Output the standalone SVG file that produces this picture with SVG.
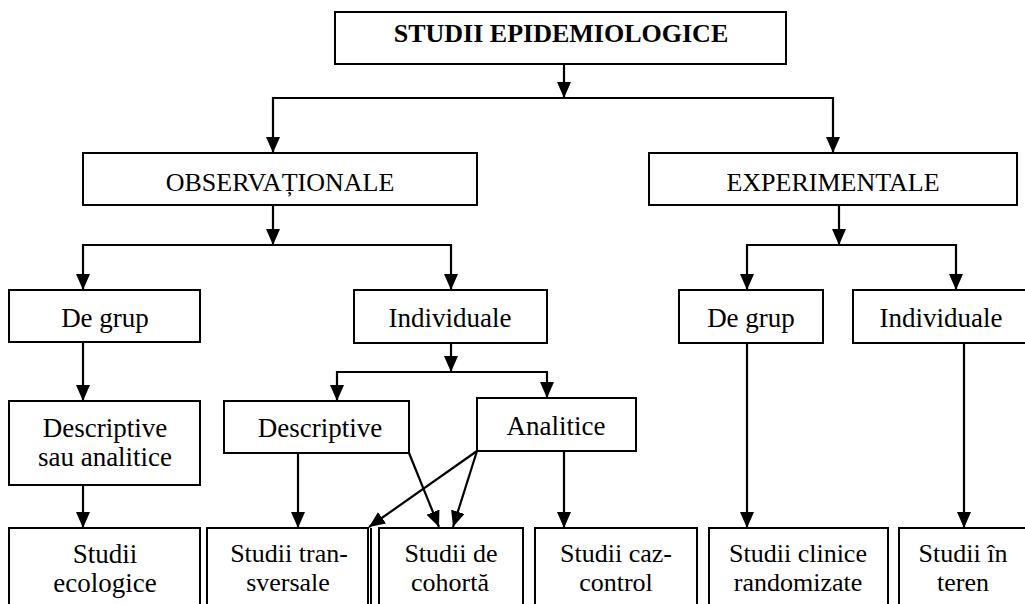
<svg xmlns="http://www.w3.org/2000/svg" width="1025" height="604" viewBox="0 0 1025 604">
  <style>
    .box { fill: #fff; stroke: #000; stroke-width: 2; }
    .lbl { font-family: "Liberation Serif", "Times New Roman", serif; font-size: 27px; fill: #000; text-anchor: middle; }
    .caps { font-size: 26px; }
    .title { font-weight: bold; font-size: 26px; }
    .sm { font-size: 26px; }
    .conn { fill: none; stroke: #000; stroke-width: 2.2; }
  </style>
  <defs>
    <marker id="arrow" viewBox="0 0 16 14" refX="16" refY="7" markerWidth="16" markerHeight="14" markerUnits="userSpaceOnUse" orient="auto">
      <path d="M0,0 L16,7 L0,14 z" fill="#000"/>
    </marker>
  </defs>
  <rect width="1025" height="604" fill="#fff"/>

  <!-- connectors -->
  <g id="connectors" class="conn">
    <path d="M564,64 V98" marker-end="url(#arrow)"/>
    <path d="M564,98 H273 V153" marker-end="url(#arrow)"/>
    <path d="M564,98 H833 V153" marker-end="url(#arrow)"/>

    <path d="M273,205 V245" marker-end="url(#arrow)"/>
    <path d="M273,245 H83 V290" marker-end="url(#arrow)"/>
    <path d="M273,245 H451 V290" marker-end="url(#arrow)"/>

    <path d="M839,205 V245" marker-end="url(#arrow)"/>
    <path d="M839,245 H747 V290" marker-end="url(#arrow)"/>
    <path d="M839,245 H956 V290" marker-end="url(#arrow)"/>

    <path d="M83,342 V401" marker-end="url(#arrow)"/>
    <path d="M83,485 V528" marker-end="url(#arrow)"/>

    <path d="M451,343 V372" marker-end="url(#arrow)"/>
    <path d="M451,372 H337 V401" marker-end="url(#arrow)"/>
    <path d="M451,372 H547 V398" marker-end="url(#arrow)"/>

    <path d="M298,453 V528" marker-end="url(#arrow)"/>
    <path d="M409,453 L439,527" marker-end="url(#arrow)"/>
    <path d="M477,451 L453,527" marker-end="url(#arrow)"/>
    <path d="M477,451 L369,527" marker-end="url(#arrow)"/>
    <path d="M564,451 V528" marker-end="url(#arrow)"/>

    <path d="M747,343 V528" marker-end="url(#arrow)"/>
    <path d="M964,343 V528" marker-end="url(#arrow)"/>
  </g>

  <g id="studii-epidemiologice">
    <rect class="box" x="335" y="12" width="451" height="52"/>
    <text class="lbl title" x="561" y="42">STUDII EPIDEMIOLOGICE</text>
  </g>

  <g id="observationale">
    <rect class="box" x="83" y="153" width="394" height="52"/>
    <text class="lbl caps" x="280" y="191">OBSERVAȚIONALE</text>
  </g>

  <g id="experimentale">
    <rect class="box" x="649" y="153" width="368" height="52"/>
    <text class="lbl caps" x="833" y="191">EXPERIMENTALE</text>
  </g>

  <g id="obs-de-grup">
    <rect class="box" x="9" y="290" width="191" height="52"/>
    <text class="lbl" x="105" y="327">De grup</text>
  </g>

  <g id="obs-individuale">
    <rect class="box" x="354" y="290" width="193" height="53"/>
    <text class="lbl" x="450" y="327">Individuale</text>
  </g>

  <g id="exp-de-grup">
    <rect class="box" x="679" y="290" width="144" height="53"/>
    <text class="lbl" x="751" y="327">De grup</text>
  </g>

  <g id="exp-individuale">
    <rect class="box" x="853" y="290" width="180" height="53"/>
    <text class="lbl" x="941" y="327">Individuale</text>
  </g>

  <g id="descriptive-sau-analitice">
    <rect class="box" x="9" y="401" width="191" height="84"/>
    <text class="lbl" x="105" y="437">Descriptive</text>
    <text class="lbl" x="105" y="466">sau analitice</text>
  </g>

  <g id="descriptive">
    <rect class="box" x="224" y="401" width="185" height="52"/>
    <text class="lbl" x="320" y="437">Descriptive</text>
  </g>

  <g id="analitice">
    <rect class="box" x="477" y="398" width="159" height="53"/>
    <text class="lbl" x="556" y="435">Analitice</text>
  </g>

  <g id="studii-ecologice">
    <rect class="box" x="9" y="528" width="191" height="92"/>
    <text class="lbl" x="105" y="563">Studii</text>
    <text class="lbl" x="105" y="592">ecologice</text>
  </g>

  <g id="studii-transversale">
    <rect class="box" x="207" y="528" width="161" height="92"/>
    <line x1="371" y1="528" x2="371" y2="620" stroke="#000" stroke-width="2"/>
    <text class="lbl sm" x="289" y="562">Studii tran-</text>
    <text class="lbl sm" x="288" y="591">sversale</text>
  </g>

  <g id="studii-cohorta">
    <rect class="box" x="379" y="528" width="144" height="92"/>
    <text class="lbl sm" x="451" y="562">Studii de</text>
    <text class="lbl sm" x="450" y="591">cohortă</text>
  </g>

  <g id="studii-caz-control">
    <rect class="box" x="535" y="528" width="162" height="92"/>
    <text class="lbl sm" x="616" y="562">Studii caz-</text>
    <text class="lbl sm" x="616" y="591">control</text>
  </g>

  <g id="studii-clinice">
    <rect class="box" x="709" y="528" width="179" height="92"/>
    <text class="lbl sm" x="798" y="562">Studii clinice</text>
    <text class="lbl sm" x="798" y="591">randomizate</text>
  </g>

  <g id="studii-teren">
    <rect class="box" x="899" y="528" width="134" height="92"/>
    <text class="lbl sm" x="963" y="562">Studii în</text>
    <text class="lbl sm" x="963" y="591">teren</text>
  </g>
</svg>
